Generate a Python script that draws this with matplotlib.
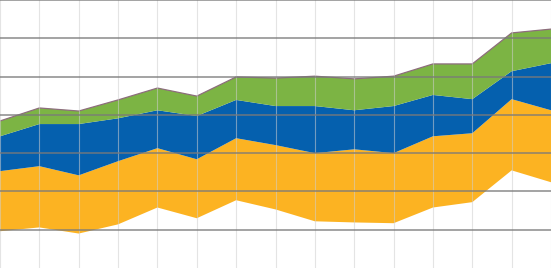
import matplotlib
matplotlib.use('Agg')
import matplotlib.pyplot as plt

# x positions (one per vertical gridline)
periods = list(range(15))

# stacked layer thicknesses (gridline step = 10)
base   = [9.6, 10.6, 9.0, 11.4, 15.8, 13.0, 17.7, 15.3, 12.2, 11.9, 11.7, 15.8, 17.2, 25.5, 22.4]
orange = [15.7, 16.0, 15.2, 16.5, 15.5, 15.4, 16.2, 16.8, 17.8, 19.1, 18.3, 18.6, 18.0, 18.6, 18.8]
blue   = [9.1, 11.0, 13.4, 11.2, 9.9, 11.3, 10.0, 10.2, 12.3, 10.2, 12.3, 10.8, 8.9, 7.3, 12.3]
green  = [4.0, 4.2, 3.4, 4.8, 5.8, 5.2, 6.0, 7.3, 7.8, 8.2, 7.8, 8.1, 9.2, 10.0, 8.9]

total = [a + b + c + d for a, b, c, d in zip(base, orange, blue, green)]

fig = plt.figure(figsize=(5.51, 2.68), dpi=100)
ax = fig.add_axes([0, 0, 1, 1])

ax.stackplot(periods, base, orange, blue, green,
             colors=["white", "#fcb322", "#0560ae", "#7cb444"], linewidth=0)
ax.plot(periods, total, color="#8d6d7c", linewidth=0.9)

ax.set_xlim(0, 14)
ax.set_ylim(0, 70)
ax.set_xticks(periods)
ax.set_yticks(range(10, 71, 10))

# gridlines sit on top of the fills
ax.set_axisbelow(False)
ax.xaxis.grid(True, color="#cfcfcf", linewidth=0.8, alpha=0.55)
ax.yaxis.grid(True, color="#7a7a7a", linewidth=1.3, alpha=0.75)
ax.tick_params(length=0, labelbottom=False, labelleft=False)
for s in ax.spines.values():
    s.set_visible(False)

plt.savefig("out.png", dpi=100)
plt.close()
